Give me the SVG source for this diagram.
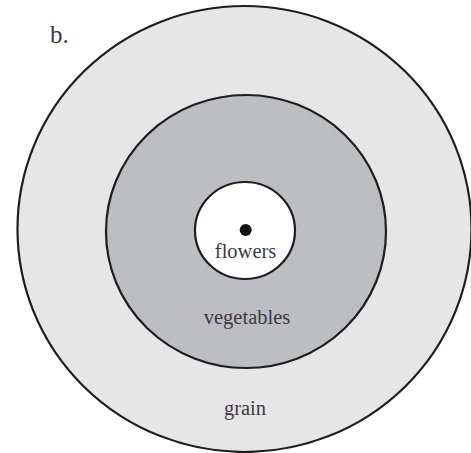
<svg xmlns="http://www.w3.org/2000/svg" width="471" height="453" viewBox="0 0 471 453">
<style>
.ring{stroke:#1e1e1e;stroke-width:2.2}
.lbl{font-family:"Liberation Serif","Times New Roman",serif;font-size:20.5px;fill:#3a3a44;text-anchor:middle}
</style>
<rect width="471" height="453" fill="#ffffff"/>
<text x="50" y="43" style="font-family:'Liberation Serif','Times New Roman',serif;font-size:25px;fill:#3a3a44">b.</text>
<g id="grain">
<ellipse class="ring" cx="244.5" cy="229" rx="227" ry="223" fill="#e6e6e6"/>
<text class="lbl" x="245" y="415">grain</text>
</g>
<g id="vegetables">
<ellipse class="ring" cx="246" cy="231.5" rx="140" ry="136.5" fill="#bdbec2"/>
<text class="lbl" x="247" y="324">vegetables</text>
</g>
<g id="flowers">
<ellipse class="ring" cx="245" cy="230.5" rx="50" ry="48.5" fill="#ffffff"/>
<circle cx="245.7" cy="230" r="6" fill="#111"/>
<text class="lbl" x="245.6" y="258">flowers</text>
</g>
<g id="connectors"></g>
</svg>
